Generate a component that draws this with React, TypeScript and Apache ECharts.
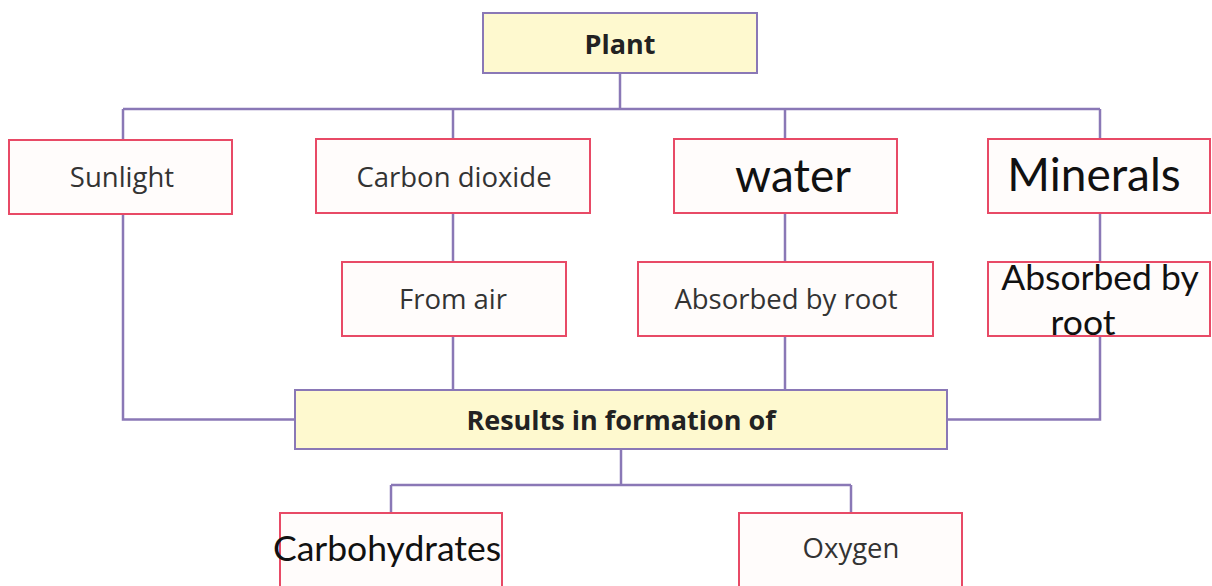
import React, { useEffect, useRef } from "react";
import * as echarts from "echarts";

// ---- content ----
const rootLabel = "Plant";
const sourceLabels = ["Sunlight", "Carbon dioxide", "water", "Minerals"];
const originLabels = ["", "From air", "Absorbed by root", "Absorbed by|root"];
const resultLabel = "Results in formation of";
const productLabels = ["Carbohydrates", "Oxygen"];

// ---- layout (pixels) ----
const LINE = "#8a78b6";
const RED = "#e84a66";
const YELLOW = "#fef9cf";
const BOXFILL = "#fffcfb";
const MYRIAD = "'Open Sans', 'Noto Sans', sans-serif";
const CALIBRI = "Lato, 'Noto Sans', sans-serif";
const MS = 27.5;
const GREY = "#333333";

const rootBox = { x: 483, y: 13, w: 274, h: 60 };
const busY = 109;
const sourceBoxes = [
  { x: 9, y: 140, w: 223, h: 74, cx: 123, font: MYRIAD, size: MS, color: GREY, tx: 122, ty: 176 },
  { x: 316, y: 139, w: 274, h: 74, cx: 453, font: MYRIAD, size: MS, color: GREY, tx: 454, ty: 176 },
  { x: 674, y: 139, w: 223, h: 74, cx: 785, font: CALIBRI, size: 46, color: "#111", tx: 793, ty: 174 },
  { x: 988, y: 139, w: 222, h: 74, cx: 1100, font: CALIBRI, size: 46, color: "#111", tx: 1094, ty: 173 },
];
const originBoxes = [
  null,
  { x: 342, y: 262, w: 224, h: 74, tx: 453 },
  { x: 638, y: 262, w: 295, h: 74, tx: 786 },
  { x: 988, y: 262, w: 222, h: 74, tx: 1100 },
];
const resultBox = { x: 295, y: 390, w: 652, h: 59 };
const prodBusY = 485;
const productBoxes = [
  { x: 280, y: 513, w: 222, h: 90, cx: 391, tx: 387, font: CALIBRI, size: 35.5, color: "#111" },
  { x: 739, y: 513, w: 223, h: 90, cx: 851, tx: 851, font: MYRIAD, size: MS, color: GREY },
];

function line(points: number[][]) {
  return {
    type: "polyline",
    shape: { points },
    style: { stroke: LINE, lineWidth: 2.5, fill: null },
    silent: true,
  };
}

function box(b: { x: number; y: number; w: number; h: number }, fill: string, stroke: string) {
  return {
    type: "rect",
    shape: { x: b.x, y: b.y, width: b.w, height: b.h },
    style: { fill, stroke, lineWidth: 2 },
    silent: true,
  };
}

function label(text: string, x: number, y: number, font: string, size: number, color: string, weight = "normal") {
  return {
    type: "text",
    x,
    y,
    style: {
      text,
      fill: color,
      fontFamily: font,
      fontSize: size,
      fontWeight: weight,
      align: "center",
      verticalAlign: "middle",
    },
    silent: true,
  };
}

export default function App() {
  const ref = useRef<HTMLDivElement>(null);
  useEffect(() => {
    document.body.style.margin = "0";
    const chart = echarts.init(ref.current!, null, { renderer: "svg" });
    const els: any[] = [];
    const rcx = rootBox.x + rootBox.w / 2;
    const resCx = resultBox.x + resultBox.w / 2;
    const resMidY = resultBox.y + resultBox.h / 2;

    // connectors
    els.push(line([[rcx, rootBox.y + rootBox.h], [rcx, busY]]));
    els.push(line([[sourceBoxes[0].cx, busY], [sourceBoxes[3].cx, busY]]));
    sourceBoxes.forEach((s) => els.push(line([[s.cx, busY], [s.cx, s.y]])));
    // sunlight path
    els.push(line([[sourceBoxes[0].cx, sourceBoxes[0].y + sourceBoxes[0].h], [sourceBoxes[0].cx, resMidY], [resultBox.x, resMidY]]));
    // co2 and water
    [1, 2].forEach((i) => {
      const s = sourceBoxes[i];
      const o = originBoxes[i]!;
      els.push(line([[s.cx, s.y + s.h], [s.cx, o.y]]));
      els.push(line([[s.cx, o.y + o.h], [s.cx, resultBox.y]]));
    });
    // minerals
    {
      const s = sourceBoxes[3];
      const o = originBoxes[3]!;
      els.push(line([[s.cx, s.y + s.h], [s.cx, o.y]]));
      els.push(line([[s.cx, o.y + o.h], [s.cx, resMidY], [resultBox.x + resultBox.w, resMidY]]));
    }
    // products
    els.push(line([[resCx, resultBox.y + resultBox.h], [resCx, prodBusY]]));
    els.push(line([[productBoxes[0].cx, prodBusY], [productBoxes[1].cx, prodBusY]]));
    productBoxes.forEach((p) => els.push(line([[p.cx, prodBusY], [p.cx, p.y]])));

    // boxes
    els.push(box(rootBox, YELLOW, LINE));
    els.push(label(rootLabel, rcx, rootBox.y + rootBox.h / 2, MYRIAD, 27, "#222", "bold"));

    sourceBoxes.forEach((s, i) => {
      els.push(box(s, BOXFILL, RED));
      els.push(label(sourceLabels[i], s.tx, s.ty, s.font, s.size, s.color));
    });

    originBoxes.forEach((o, i) => {
      if (!o) return;
      els.push(box(o, BOXFILL, RED));
      if (i === 3) {
        const parts = originLabels[i].split("|");
        els.push(label(parts[0], o.tx, o.y + 14, CALIBRI, 35.5, "#111"));
        els.push(label(parts[1], 1083, o.y + 59, CALIBRI, 35.5, "#111"));
      } else {
        els.push(label(originLabels[i], o.tx, o.y + o.h / 2 - 1, MYRIAD, MS, GREY));
      }
    });

    els.push(box(resultBox, YELLOW, LINE));
    els.push(label(resultLabel, resCx, resMidY, MYRIAD, 27, "#222", "bold"));

    productBoxes.forEach((p, i) => {
      els.push(box(p, BOXFILL, RED));
      els.push(label(productLabels[i], p.tx, 547, p.font, p.size, p.color));
    });

    chart.setOption({
      animation: false,
      backgroundColor: "#ffffff",
      graphic: { elements: els },
    });
    return () => chart.dispose();
  }, []);
  return <div ref={ref} style={{ width: 1212, height: 586 }} />;
}
